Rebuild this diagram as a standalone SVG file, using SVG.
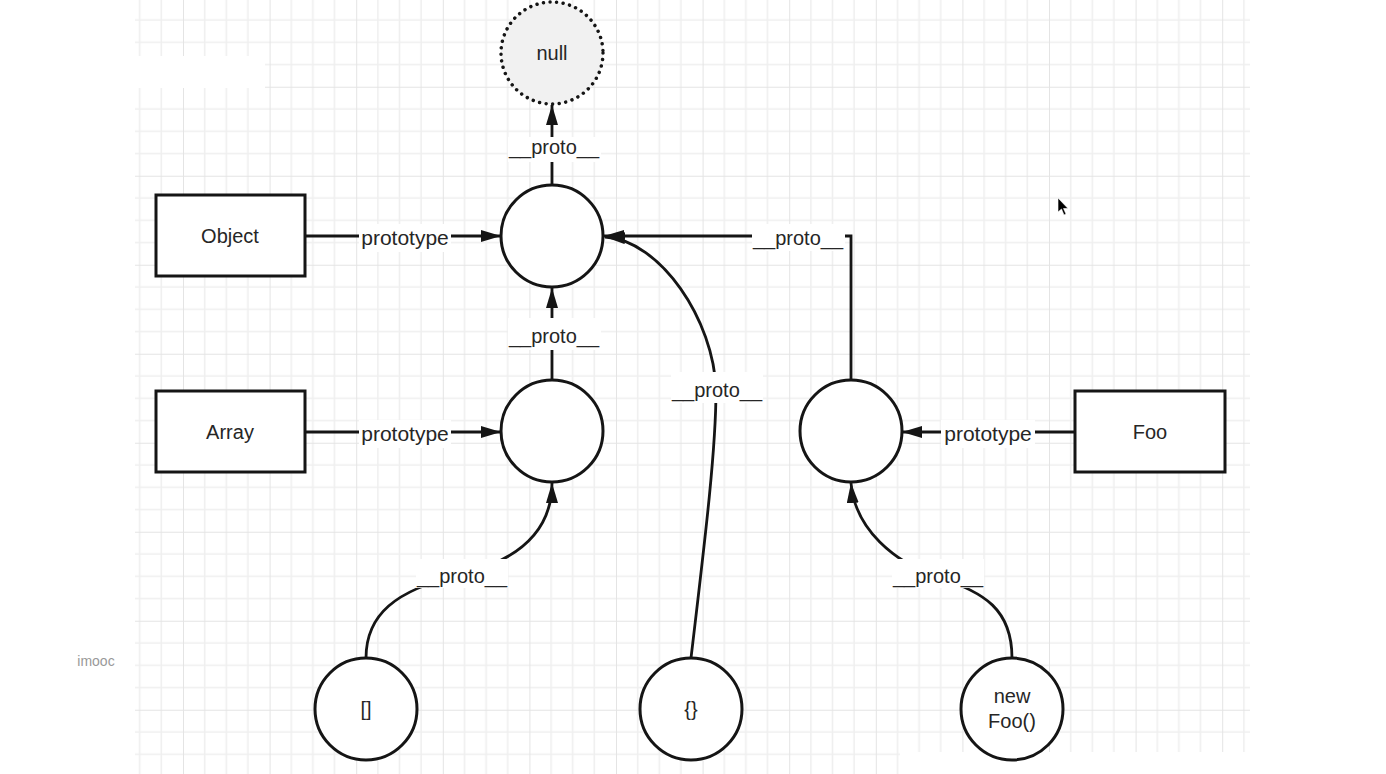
<svg xmlns="http://www.w3.org/2000/svg" width="1386" height="774" viewBox="0 0 1386 774">
  <style>
    .node { fill: #ffffff; stroke: #151515; stroke-width: 3; }
    .nulln { fill: #f1f1f1; stroke: #151515; stroke-width: 3.5; stroke-dasharray: 0.01 6.6; stroke-linecap: round; }
    .txt { font-family: "Liberation Sans", Arial, sans-serif; font-size: 20px; fill: #262626; text-anchor: middle; }
    .lbl { font-family: "Liberation Sans", Arial, sans-serif; font-size: 20px; fill: #262626; text-anchor: middle; }
    .ptl { font-size: 21px; }
    .edge { fill: none; stroke: #151515; stroke-width: 2.8; }
    .bg { fill: #ffffff; }
    .minor { stroke: #efefef; stroke-width: 1.6; }
    .major { stroke: #e4e4e4; stroke-width: 2; }
  </style>
  <defs>
    <pattern id="grid" patternUnits="userSpaceOnUse" x="96.4" y="-2.25" width="86.6" height="89">
      <line class="minor" x1="21.65" y1="0" x2="21.65" y2="89"/>
      <line class="minor" x1="43.3" y1="0" x2="43.3" y2="89"/>
      <line class="minor" x1="64.95" y1="0" x2="64.95" y2="89"/>
      <line class="minor" x1="0" y1="22.25" x2="86.6" y2="22.25"/>
      <line class="minor" x1="0" y1="44.5" x2="86.6" y2="44.5"/>
      <line class="minor" x1="0" y1="66.75" x2="86.6" y2="66.75"/>
      <line class="major" x1="0" y1="0" x2="0" y2="89"/>
      <line class="major" x1="0" y1="0" x2="86.6" y2="0"/>
    </pattern>
    <marker id="arrow" viewBox="0 0 20 12" markerWidth="20" markerHeight="12" refX="20" refY="6" orient="auto" markerUnits="userSpaceOnUse">
      <path d="M0,0 L20,6 L0,12 Z" fill="#151515"/>
    </marker>
  </defs>

  <rect x="0" y="0" width="1386" height="774" fill="#ffffff"/>
  <g id="background">
    <rect x="135" y="0" width="1115" height="774" fill="url(#grid)"/>
    <rect x="135" y="56" width="130" height="32" fill="#ffffff"/>
    <rect x="900" y="752" width="350" height="22" fill="#ffffff"/>
    <text x="96" y="666" font-family="Liberation Sans, Arial, sans-serif" font-size="14" fill="#999999" text-anchor="middle">imooc</text>
    <path d="M1058 198 L1058 212 L1061.5 209 L1064 215 L1066 214 L1063.5 208.5 L1068 208.5 Z" fill="#000000" stroke="#ffffff" stroke-width="0.6"/>
  </g>

  <g id="node-null">
    <circle class="nulln" cx="552" cy="53" r="51"/>
    <text class="txt" x="552" y="60">null</text>
  </g>
  <g id="node-object">
    <rect class="node" x="156" y="195" width="149" height="81"/>
    <text class="txt" x="230" y="243">Object</text>
  </g>
  <g id="node-object-prototype">
    <circle class="node" cx="552" cy="236" r="51"/>
  </g>
  <g id="node-array">
    <rect class="node" x="156" y="391" width="149" height="81"/>
    <text class="txt" x="230" y="439">Array</text>
  </g>
  <g id="node-array-prototype">
    <circle class="node" cx="552" cy="431" r="51"/>
  </g>
  <g id="node-foo-prototype">
    <circle class="node" cx="851" cy="431" r="51"/>
  </g>
  <g id="node-foo">
    <rect class="node" x="1075" y="391" width="150" height="81"/>
    <text class="txt" x="1150" y="439">Foo</text>
  </g>
  <g id="node-array-instance">
    <circle class="node" cx="366" cy="709" r="51"/>
    <text class="txt" x="366" y="716">[]</text>
  </g>
  <g id="node-object-instance">
    <circle class="node" cx="691" cy="709" r="51"/>
    <text class="txt" x="691" y="716">{}</text>
  </g>
  <g id="node-foo-instance">
    <circle class="node" cx="1012" cy="709" r="51"/>
    <text class="txt" x="1012" y="703">new</text>
    <text class="txt" x="1012" y="728">Foo()</text>
  </g>

  <g id="connectors">
    <path class="edge" d="M305 236 L501 236" marker-end="url(#arrow)"/>
    <path class="edge" d="M305 432 L501 432" marker-end="url(#arrow)"/>
    <path class="edge" d="M1075 432 L902 432" marker-end="url(#arrow)"/>
    <path class="edge" d="M552 185 L552 105" marker-end="url(#arrow)"/>
    <path class="edge" d="M552 380 L552 288" marker-end="url(#arrow)"/>
    <path class="edge" d="M851 380 L851 236 L604 236" marker-end="url(#arrow)"/>
    <path class="edge" d="M691 658 C705 540 716 450 716 390 C714 320 660 240 605 237" marker-end="url(#arrow)"/>
    <path class="edge" d="M366 658 C366 615 395 590 460 575 C520 560 552 530 552 483" marker-end="url(#arrow)"/>
    <path class="edge" d="M1012 658 C1012 610 985 592 937 577 C895 562 855 530 851 483" marker-end="url(#arrow)"/>

    <rect class="bg" x="359" y="224" width="92" height="28"/>
    <text class="lbl ptl" x="405" y="245">prototype</text>
    <rect class="bg" x="359" y="420" width="92" height="28"/>
    <text class="lbl ptl" x="405" y="441">prototype</text>
    <rect class="bg" x="941" y="420" width="94" height="28"/>
    <text class="lbl ptl" x="988" y="441">prototype</text>

    <rect class="bg" x="508" y="137" width="93" height="25"/>
    <text class="lbl" x="554" y="154">__proto__</text>
    <rect class="bg" x="508" y="318" width="93" height="32"/>
    <text class="lbl" x="554" y="343">__proto__</text>
    <rect class="bg" x="671" y="372" width="92" height="31"/>
    <text class="lbl" x="717" y="397">__proto__</text>
    <rect class="bg" x="752" y="224" width="93" height="27"/>
    <text class="lbl" x="798" y="245">__proto__</text>
    <rect class="bg" x="416" y="559" width="92" height="29"/>
    <text class="lbl" x="462" y="583">__proto__</text>
    <rect class="bg" x="892" y="559" width="92" height="29"/>
    <text class="lbl" x="938" y="583">__proto__</text>
  </g>
</svg>
